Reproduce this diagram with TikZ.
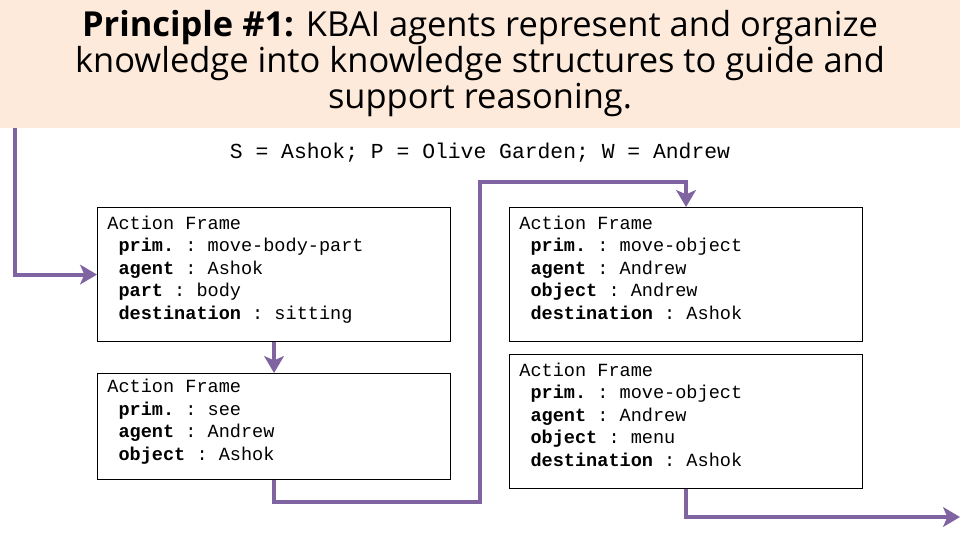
\documentclass[tikz,border=0pt]{standalone}
\usepackage{fontspec}
\setmainfont{Open Sans}
\newfontfamily\framefont{Liberation Mono}
\usetikzlibrary{positioning, arrows.meta}
\definecolor{headfill}{RGB}{253,234,219}
\definecolor{flowpurple}{RGB}{128,100,162}
\newcommand{\slot}[2]{\hspace*{0.6em}\textbf{#1} : #2}

\begin{document}
\begin{tikzpicture}[x=0.025cm, y=-0.025cm,
  frame/.style={draw, line width=0.8pt, anchor=north west, align=left, inner xsep=7pt, text width=237pt,
    font=\framefont\fontsize{13.2}{16}\selectfont,
    execute at begin node={\frenchspacing\spaceskip=0pt\xspaceskip=0pt},
    execute at end node={\rule[-10pt]{0pt}{10pt}}},
  flow/.style={flowpurple, line width=2.8pt, -{Stealth[length=12pt, width=14pt, inset=3pt]}}]
\useasboundingbox (0,0) rectangle (960,540);
\fill [headfill] (0,0) rectangle (960,128);
\node [font=\fontsize{24.5}{25.6}\selectfont, align=center] (title) at (480,64) {\textbf{Principle \#1:} KBAI agents represent and organize\\knowledge into knowledge structures to guide and\\support reasoning.};
\node [font=\framefont\fontsize{15.2}{18}\selectfont] (given) at (480,153) {S = Ashok; P = Olive Garden; W = Andrew};
% frames
\node [frame, minimum height=95.3pt] (f1) at (97,207) {Action Frame\\\slot{prim.}{move-body-part}\\\slot{agent}{Ashok}\\\slot{part}{body}\\\slot{destination}{sitting}};
\node [frame, minimum height=75.4pt] (f2) at (97,373) {Action Frame\\\slot{prim.}{see}\\\slot{agent}{Andrew}\\\slot{object}{Ashok}};
\node [frame, minimum height=95.3pt] (f3) at (509,207) {Action Frame\\\slot{prim.}{move-object}\\\slot{agent}{Andrew}\\\slot{object}{Andrew}\\\slot{destination}{Ashok}};
\node [frame, minimum height=95.3pt] (f4) at (509,354) {Action Frame\\\slot{prim.}{move-object}\\\slot{agent}{Andrew}\\\slot{object}{menu}\\\slot{destination}{Ashok}};
% connectors
\coordinate (start) at (15,128);
\coordinate (lowturn) at (480,502);
\coordinate (highturn) at (480,182);
\coordinate (finish) at (960,517);
\draw [flow] (start) |- (f1.west);
\draw [flow] (f1.south) -- (f2.north);
\draw [flow] (f2.south) |- (lowturn) -- (highturn) -| (f3.north);
\draw [flow] (f4.south) |- (finish);
\end{tikzpicture}
\end{document}
